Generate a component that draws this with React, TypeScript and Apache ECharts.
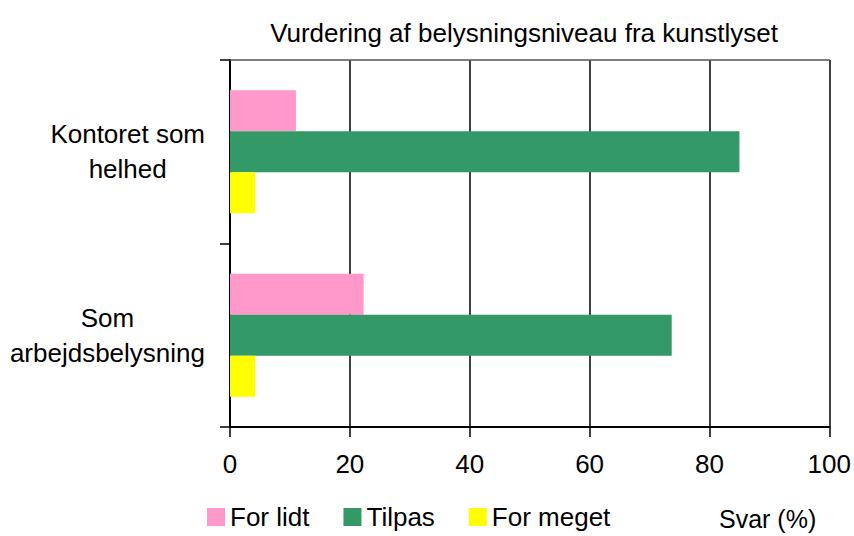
import React, { useEffect, useRef } from "react";
import * as echarts from "echarts";

const categories = ["Kontoret som\nhelhed", "Som\narbejdsbelysning"];
const seriesNames = ["For lidt", "Tilpas", "For meget"];
const forLidt = [11, 22.3];
const tilpas = [85, 73.7];
const forMeget = [4.2, 4.2];
const colors = ["#FF99CC", "#339966", "#FFFF00"];
const xTicks = [0, 20, 40, 60, 80, 100];

const FONT = "Liberation Sans, Arial, sans-serif";
const FS = 26;

export default function App() {
  const ref = useRef<HTMLDivElement>(null);
  useEffect(() => {
    if (!ref.current) return;
    const chart = echarts.init(ref.current, null, { renderer: "svg" });
    const values = [forLidt, tilpas, forMeget];
    chart.setOption({
      animation: false,
      textStyle: { fontFamily: FONT },
      title: [
        {
          text: "Vurdering af belysningsniveau fra kunstlyset",
          left: 519,
          top: 15,
          textAlign: "center",
          textStyle: { fontSize: FS, fontWeight: "normal", color: "#000", fontFamily: FONT },
        },
        {
          text: "Svar (%)",
          left: 714,
          top: 501,
          textStyle: { fontSize: 25, fontWeight: "normal", color: "#000", fontFamily: FONT },
        },
      ],
      legend: {
        data: seriesNames,
        left: 202,
        top: 499,
        itemWidth: 18,
        itemHeight: 18,
        itemGap: 34,
        icon: "rect",
        textStyle: { fontSize: FS, color: "#000", fontFamily: FONT },
      },
      grid: { left: 230, right: 24, top: 60, bottom: 109, containLabel: false },
      xAxis: [
        {
          type: "value",
          min: xTicks[0],
          max: xTicks[xTicks.length - 1],
          interval: 20,
          axisLine: { show: true, lineStyle: { color: "#000", width: 2 } },
          axisTick: { show: true, inside: false, length: 10, lineStyle: { color: "#000", width: 1.5 } },
          axisLabel: { fontSize: FS, color: "#000", margin: 24, fontFamily: FONT },
          splitLine: { show: true, lineStyle: { color: "#000", width: 1.5 } },
        },
        {
          type: "value",
          position: "top",
          min: 0,
          max: 100,
          axisLine: { show: true, lineStyle: { color: "#555", width: 1.5 } },
          axisTick: { show: false },
          axisLabel: { show: false },
          splitLine: { show: false },
        },
      ],
      yAxis: {
        type: "category",
        inverse: true,
        data: categories,
        axisLine: { show: true, lineStyle: { color: "#000", width: 2 } },
        axisTick: { show: true, length: 10, lineStyle: { color: "#000", width: 1.5 } },
        axisLabel: {
          margin: 25,
          color: "#000",
          fontSize: FS,
          lineHeight: 35,
          formatter: (v: string) =>
            v
              .split("\n")
              .map((l) => `{c|${l}}`)
              .join("\n"),
          rich: {
            c: { align: "center", fontSize: FS, lineHeight: 35, color: "#000", fontFamily: FONT },
          },
        },
      },
      series: seriesNames.map((name, i) => ({
        name,
        type: "bar",
        data: values[i],
        barGap: "0%",
        barCategoryGap: "33%",
        itemStyle: { color: colors[i] },
      })),
    });
    return () => chart.dispose();
  }, []);
  return <div ref={ref} style={{ width: 854, height: 536, position: "absolute", left: 0, top: 0 }} />;
}
